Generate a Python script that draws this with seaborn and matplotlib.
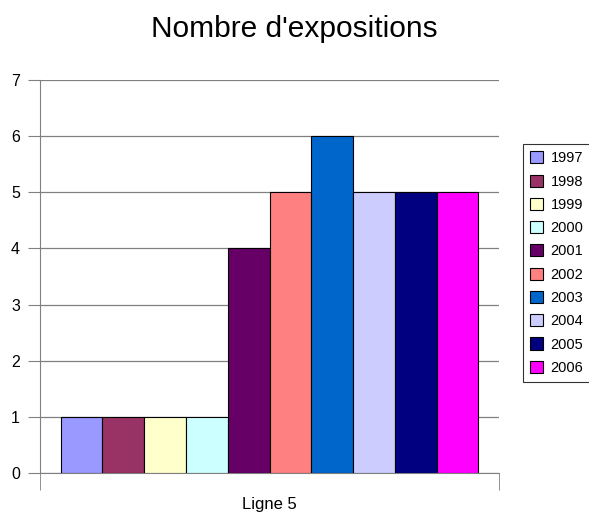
import matplotlib
matplotlib.use("Agg")
import matplotlib.pyplot as plt
import seaborn as sns
import pandas as pd

years = ["1997", "1998", "1999", "2000", "2001", "2002", "2003", "2004", "2005", "2006"]
values = [1, 1, 1, 1, 4, 5, 6, 5, 5, 5]
category = ["Ligne 5"]
colors = ["#9999FF", "#993366", "#FFFFCC", "#CCFFFF", "#660066",
          "#FF8080", "#0066CC", "#CCCCFF", "#000080", "#FF00FF"]

sns.set_style("white")
plt.rcParams["font.family"] = ["Liberation Sans", "DejaVu Sans"]
plt.rcParams["text.color"] = "black"
plt.rcParams["xtick.color"] = "black"
plt.rcParams["ytick.color"] = "black"

df = pd.DataFrame({"cat": category * len(years), "year": years, "val": values})

fig = plt.figure(figsize=(5.89, 5.12), dpi=100)
ax = fig.add_axes([40/589, 39/512, 459/589, 393/512])

sns.barplot(data=df, x="cat", y="val", hue="year", palette=colors,
            width=0.91, dodge=True, ax=ax, edgecolor="black", linewidth=0.8,
            saturation=1, legend=True, zorder=3)

ax.set_xlim(-0.5, 0.5)
ax.set_ylim(0, 7)
ax.set_yticks(range(0, 8))
ax.yaxis.grid(True, color="#808080", linewidth=0.9, zorder=0)
ax.set_axisbelow(True)
for s in ["top", "right"]:
    ax.spines[s].set_visible(False)
ax.spines["left"].set_color("#808080")
ax.spines["bottom"].set_color("#808080")
ax.tick_params(axis="y", which="major", left=True, length=9, color="#808080",
               labelcolor="black", labelsize=11.5, pad=5.5)
ax.set_xticks([0])
ax.set_xticklabels(["Ligne 5"])
ax.tick_params(axis="x", which="major", bottom=False, labelsize=12,
               labelcolor="black", pad=14)
ax.set_xticks([-0.5, 0.5], minor=True)
ax.tick_params(axis="x", which="minor", bottom=True, length=12, color="#808080")
ax.set_xlabel("")
ax.set_ylabel("")

fig.text(0.5, 1 - 29/512, "Nombre d'expositions", ha="center", va="center",
         fontsize=21.5, color="black")

handles, labels = ax.get_legend_handles_labels()
ax.legend_.remove()
leg = fig.legend(handles, labels, loc="upper left", bbox_to_anchor=(523/589, 1 - 144/512),
                 fontsize=10.5, frameon=True, fancybox=False, edgecolor="black",
                 handlelength=0.9, handleheight=0.9, handletextpad=0.5,
                 labelspacing=0.63, borderpad=0.5, borderaxespad=0)
leg.get_frame().set_linewidth(0.8)
for t in leg.get_texts():
    t.set_color("black")

fig.savefig("out.png", dpi=100)
